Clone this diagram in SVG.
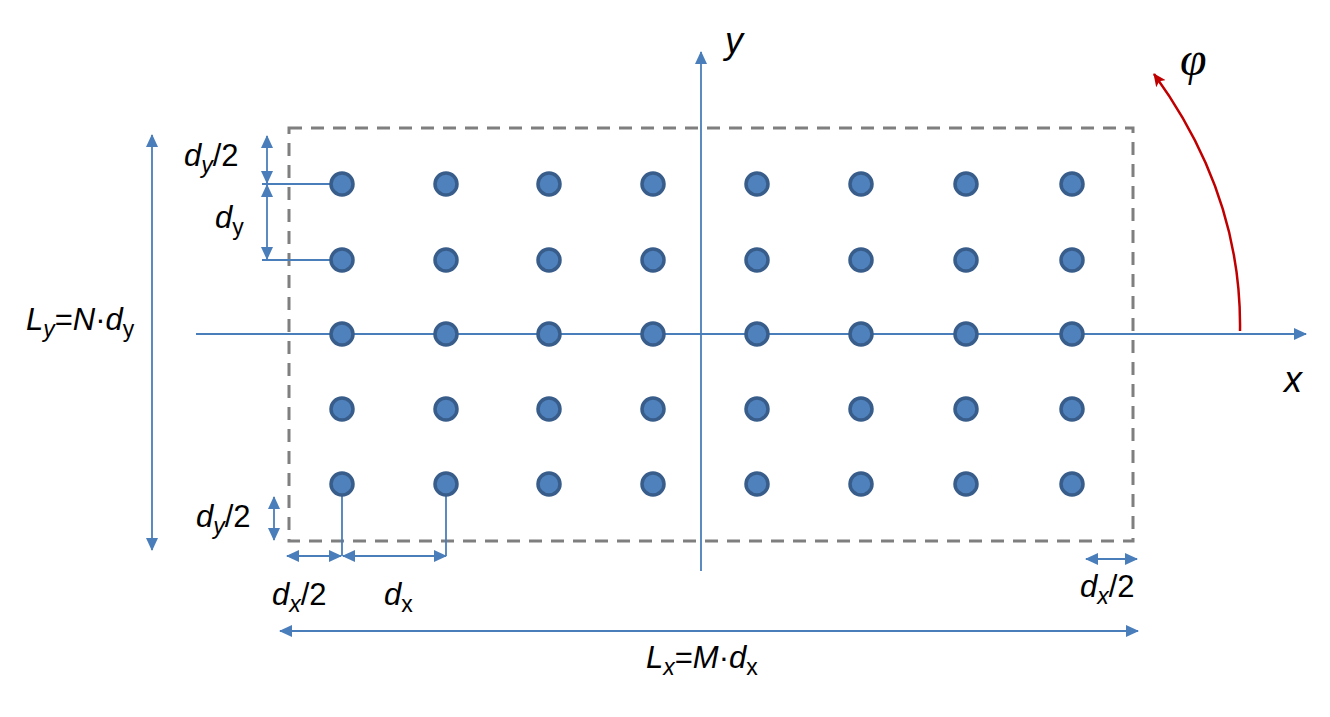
<svg xmlns="http://www.w3.org/2000/svg" width="1330" height="717" viewBox="0 0 1330 717">
<defs>
<marker id="ab" markerUnits="userSpaceOnUse" markerWidth="14" markerHeight="12" refX="12" refY="6" orient="auto-start-reverse" viewBox="0 0 14 12">
<path d="M0,0 L13,6 L0,12 Z" fill="#4a7ebb"/>
</marker>
<marker id="ar" markerUnits="userSpaceOnUse" markerWidth="14" markerHeight="12" refX="12" refY="6" orient="auto" viewBox="0 0 14 12">
<path d="M0,0 L13,6 L0,12 L3,6 Z" fill="#c00000"/>
</marker>
</defs>
<style>
.ln{stroke:#4a7ebb;stroke-width:1.8;fill:none}
.dot{fill:#4f81bd;stroke:#385d8a;stroke-width:3.5}
.lbl{font-family:"Liberation Sans",Arial,sans-serif;font-size:31px;fill:#000}
.i{font-style:italic}
.sub{font-size:23px}
</style>
<rect width="1330" height="717" fill="#fff"/>
<g id="frame">
<rect x="289" y="128" width="844" height="413" fill="none" stroke="#7f7f7f" stroke-width="3" stroke-dasharray="13,9"/>
</g>
<g id="connectors">
<line class="ln" x1="196" y1="334" x2="1306" y2="334" marker-end="url(#ab)"/>
<line class="ln" x1="701" y1="571" x2="701" y2="52" marker-end="url(#ab)"/>
<line class="ln" x1="152" y1="135" x2="152" y2="550" marker-start="url(#ab)" marker-end="url(#ab)"/>
<line class="ln" x1="267" y1="136" x2="267" y2="183" marker-start="url(#ab)" marker-end="url(#ab)"/>
<line class="ln" x1="267" y1="185" x2="267" y2="259" marker-start="url(#ab)" marker-end="url(#ab)"/>
<line class="ln" x1="262" y1="184" x2="342" y2="184"/>
<line class="ln" x1="262" y1="260" x2="342" y2="260"/>
<line class="ln" x1="274" y1="497" x2="274" y2="540" marker-start="url(#ab)" marker-end="url(#ab)"/>
<line class="ln" x1="342" y1="484" x2="342" y2="556"/>
<line class="ln" x1="446" y1="484" x2="446" y2="556"/>
<line class="ln" x1="287" y1="556" x2="341" y2="556" marker-start="url(#ab)" marker-end="url(#ab)"/>
<line class="ln" x1="343" y1="556" x2="446" y2="556" marker-start="url(#ab)" marker-end="url(#ab)"/>
<line class="ln" x1="1086" y1="559" x2="1137" y2="559" marker-start="url(#ab)" marker-end="url(#ab)"/>
<line class="ln" x1="280" y1="631" x2="1138" y2="631" marker-start="url(#ab)" marker-end="url(#ab)"/>
<path d="M1240,331 Q1242,195 1154,74" fill="none" stroke="#c00000" stroke-width="2.5" marker-end="url(#ar)"/>
</g>
<g id="dots">
<g id="row1"><circle class="dot" cx="342" cy="184" r="11"/><circle class="dot" cx="446" cy="184" r="11"/><circle class="dot" cx="549" cy="184" r="11"/><circle class="dot" cx="653" cy="184" r="11"/><circle class="dot" cx="757" cy="184" r="11"/><circle class="dot" cx="861" cy="184" r="11"/><circle class="dot" cx="966" cy="184" r="11"/><circle class="dot" cx="1072" cy="184" r="11"/></g>
<g id="row2"><circle class="dot" cx="342" cy="260" r="11"/><circle class="dot" cx="446" cy="260" r="11"/><circle class="dot" cx="549" cy="260" r="11"/><circle class="dot" cx="653" cy="260" r="11"/><circle class="dot" cx="757" cy="260" r="11"/><circle class="dot" cx="861" cy="260" r="11"/><circle class="dot" cx="966" cy="260" r="11"/><circle class="dot" cx="1072" cy="260" r="11"/></g>
<g id="row3"><circle class="dot" cx="342" cy="334" r="11"/><circle class="dot" cx="446" cy="334" r="11"/><circle class="dot" cx="549" cy="334" r="11"/><circle class="dot" cx="653" cy="334" r="11"/><circle class="dot" cx="757" cy="334" r="11"/><circle class="dot" cx="861" cy="334" r="11"/><circle class="dot" cx="966" cy="334" r="11"/><circle class="dot" cx="1072" cy="334" r="11"/></g>
<g id="row4"><circle class="dot" cx="342" cy="409" r="11"/><circle class="dot" cx="446" cy="409" r="11"/><circle class="dot" cx="549" cy="409" r="11"/><circle class="dot" cx="653" cy="409" r="11"/><circle class="dot" cx="757" cy="409" r="11"/><circle class="dot" cx="861" cy="409" r="11"/><circle class="dot" cx="966" cy="409" r="11"/><circle class="dot" cx="1072" cy="409" r="11"/></g>
<g id="row5"><circle class="dot" cx="342" cy="484" r="11"/><circle class="dot" cx="446" cy="484" r="11"/><circle class="dot" cx="549" cy="484" r="11"/><circle class="dot" cx="653" cy="484" r="11"/><circle class="dot" cx="757" cy="484" r="11"/><circle class="dot" cx="861" cy="484" r="11"/><circle class="dot" cx="966" cy="484" r="11"/><circle class="dot" cx="1072" cy="484" r="11"/></g>
</g>
<g id="labels">
<text class="lbl i" x="725" y="53" style="font-size:36px">y</text>
<text class="lbl i" x="1284" y="392" style="font-size:36px">x</text>
<text x="1180" y="75" style="font-family:'Liberation Serif',serif;font-style:italic;font-size:48px">φ</text>
<text class="lbl" x="184" y="166"><tspan class="i">d</tspan><tspan class="i sub" dy="7">y</tspan><tspan dy="-7">/2</tspan></text>
<text class="lbl" x="215" y="228"><tspan class="i">d</tspan><tspan class="sub" dy="7">y</tspan></text>
<text class="lbl" x="26" y="330"><tspan class="i">L</tspan><tspan class="i sub" dy="7">y</tspan><tspan dy="-7">=</tspan><tspan class="i">N</tspan><tspan>·</tspan><tspan class="i">d</tspan><tspan class="sub" dy="7">y</tspan></text>
<text class="lbl" x="196" y="527"><tspan class="i">d</tspan><tspan class="i sub" dy="7">y</tspan><tspan dy="-7">/2</tspan></text>
<text class="lbl" x="272" y="605"><tspan class="i">d</tspan><tspan class="i sub" dy="7">x</tspan><tspan dy="-7">/2</tspan></text>
<text class="lbl" x="384" y="605"><tspan class="i">d</tspan><tspan class="sub" dy="7">x</tspan></text>
<text class="lbl" x="1080" y="597"><tspan class="i">d</tspan><tspan class="i sub" dy="7">x</tspan><tspan dy="-7">/2</tspan></text>
<text class="lbl" x="646" y="668"><tspan class="i">L</tspan><tspan class="i sub" dy="7">x</tspan><tspan dy="-7">=</tspan><tspan class="i">M</tspan><tspan>·</tspan><tspan class="i">d</tspan><tspan class="sub" dy="7">x</tspan></text>
</g>
</svg>
